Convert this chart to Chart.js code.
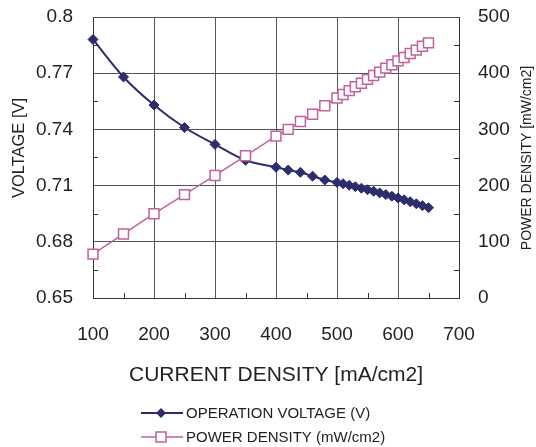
<!DOCTYPE html>
<html>
<head>
<meta charset="utf-8">
<script src="https://cdn.jsdelivr.net/npm/chart.js@4.4.1/dist/chart.umd.min.js"></script>
<style>
  html, body { margin: 0; padding: 0; background: #fff; }
  #wrap { width: 536px; height: 447px; position: relative; }
</style>
</head>
<body>
<div id="wrap"><canvas id="ivChart"></canvas></div>
<script>
// current density [mA/cm2]
const current = [100, 150, 200, 250, 300, 350, 400, 420, 440, 460, 480,
  500, 510, 520, 530, 540, 550, 560, 570, 580, 590, 600, 610, 620, 630, 640, 650];
// operation voltage [V]
const voltage = [0.788, 0.768, 0.753, 0.741, 0.732, 0.7235, 0.7198, 0.7183, 0.7171, 0.7150, 0.7130,
  0.7117, 0.7110, 0.7102, 0.7094, 0.7086, 0.7078, 0.7070, 0.7061, 0.7052, 0.7043, 0.7034,
  0.7024, 0.7014, 0.7003, 0.6993, 0.6982];
// power density [mW/cm2]
const power = [78, 114, 150, 184, 218, 253, 288, 300, 314, 327, 342,
  356, 362, 369, 376, 382, 389, 396, 402, 409, 415, 422, 428, 435, 441, 448, 454];

const voltTickLabels = ['0.65', '0.68', '0.71', '0.74', '0.77', '0.8'];
const powerTickLabels = ['0', '100', '200', '300', '400', '500'];
const xTickLabels = ['100', '200', '300', '400', '500', '600', '700'];

const NAVY = '#2d2c6c';
const PINK = '#c2619f';
const GRID = '#555555';
const TEXT = '#222222';
const FONT = "'Liberation Sans', Arial, sans-serif";
const NO_TICK = 'rgba(0,0,0,0)';

const toPoints = (ys) => current.map((x, i) => ({ x: x, y: ys[i] }));

// short inward ticks halfway between the major ones
const minorTicks = {
  id: 'minorTicks',
  afterDraw(chart) {
    const ctx = chart.ctx;
    const area = chart.chartArea;
    const len = 5;
    ctx.save();
    ctx.strokeStyle = '#333';
    ctx.lineWidth = 1;
    ctx.beginPath();
    const xs = chart.scales.x, yl = chart.scales.y, yr = chart.scales.y1;
    for (let i = 0; i < xs.ticks.length - 1; i++) {
      const px = Math.round(xs.getPixelForValue((xs.ticks[i].value + xs.ticks[i + 1].value) / 2)) + 0.5;
      ctx.moveTo(px, area.bottom);
      ctx.lineTo(px, area.bottom - len);
    }
    for (let i = 0; i < yl.ticks.length - 1; i++) {
      const py = Math.round(yl.getPixelForValue((yl.ticks[i].value + yl.ticks[i + 1].value) / 2)) + 0.5;
      ctx.moveTo(area.left, py);
      ctx.lineTo(area.left + len, py);
    }
    for (let i = 0; i < yr.ticks.length - 1; i++) {
      const py = Math.round(yr.getPixelForValue((yr.ticks[i].value + yr.ticks[i + 1].value) / 2)) + 0.5;
      ctx.moveTo(area.right, py);
      ctx.lineTo(area.right - len, py);
    }
    ctx.stroke();
    ctx.restore();
  }
};

// rotated axis titles and the stacked legend under the x axis
const sideTexts = {
  id: 'sideTexts',
  afterDraw(chart) {
    const ctx = chart.ctx;
    ctx.save();
    ctx.fillStyle = TEXT;
    ctx.textAlign = 'center';
    ctx.textBaseline = 'middle';

    ctx.save();
    ctx.translate(19, 148);
    ctx.rotate(-Math.PI / 2);
    ctx.font = '16.5px ' + FONT;
    ctx.fillText('VOLTAGE [V]', 0, 0);
    ctx.restore();

    ctx.save();
    ctx.translate(527, 158);
    ctx.rotate(-Math.PI / 2);
    ctx.font = '14px ' + FONT;
    ctx.fillText('POWER DENSITY [mW/cm2]', 0, 0);
    ctx.restore();

    const rows = [
      { y: 413, ds: chart.data.datasets[0] },
      { y: 437, ds: chart.data.datasets[1] }
    ];
    ctx.textAlign = 'left';
    ctx.font = '15px ' + FONT;
    rows.forEach((r) => {
      const ds = r.ds;
      ctx.strokeStyle = ds.borderColor;
      ctx.lineWidth = ds.borderWidth;
      ctx.beginPath();
      ctx.moveTo(141, r.y);
      ctx.lineTo(183, r.y);
      ctx.stroke();
      const cx = 161;
      ctx.beginPath();
      if (ds.pointStyle === 'rectRot') {
        ctx.moveTo(cx - 5, r.y);
        ctx.lineTo(cx, r.y - 5);
        ctx.lineTo(cx + 5, r.y);
        ctx.lineTo(cx, r.y + 5);
        ctx.closePath();
        ctx.fillStyle = ds.pointBackgroundColor;
        ctx.fill();
      } else {
        ctx.rect(cx - 5, r.y - 5, 10, 10);
        ctx.fillStyle = ds.pointBackgroundColor;
        ctx.fill();
        ctx.lineWidth = ds.pointBorderWidth;
        ctx.strokeStyle = ds.pointBorderColor;
        ctx.stroke();
      }
      ctx.fillStyle = TEXT;
      ctx.fillText(ds.label, 186, r.y + 1);
    });
    ctx.restore();
  }
};

new Chart(document.getElementById('ivChart').getContext('2d'), {
  type: 'line',
  data: {
    datasets: [{
      label: 'OPERATION VOLTAGE (V)',
      data: toPoints(voltage),
      yAxisID: 'y',
      borderColor: NAVY,
      borderWidth: 2,
      cubicInterpolationMode: 'monotone',
      pointStyle: 'rectRot',
      pointRadius: 5,
      pointBackgroundColor: NAVY,
      pointBorderColor: NAVY,
      pointBorderWidth: 1,
      clip: false,
      order: 2
    }, {
      label: 'POWER DENSITY (mW/cm2)',
      data: toPoints(power),
      yAxisID: 'y1',
      borderColor: PINK,
      borderWidth: 1.5,
      tension: 0,
      pointStyle: 'rect',
      pointRadius: 7,
      pointBackgroundColor: '#ffffff',
      pointBorderColor: PINK,
      pointBorderWidth: 1.5,
      clip: false,
      order: 1
    }]
  },
  options: {
    responsive: true,
    maintainAspectRatio: false,
    animation: false,
    layout: { padding: { left: 0, right: 0, top: 17, bottom: 59 } },
    plugins: {
      legend: { display: false },
      tooltip: { enabled: false }
    },
    scales: {
      x: {
        type: 'linear',
        min: 100,
        max: 700,
        afterFit: (s) => { s.height = 90; },
        grid: { color: GRID, lineWidth: 1, drawTicks: true, tickLength: 25, tickColor: NO_TICK },
        border: { color: '#333', width: 1 },
        ticks: {
          stepSize: 100,
          padding: 0,
          color: TEXT,
          font: { family: FONT, size: 19 },
          callback: (v, i) => xTickLabels[i]
        },
        title: {
          display: true,
          text: 'CURRENT DENSITY [mA/cm2]',
          color: TEXT,
          padding: 0,
          font: { family: FONT, size: 21 }
        }
      },
      y: {
        position: 'left',
        min: 0.65,
        max: 0.8,
        afterFit: (s) => { s.width = 93; },
        grid: { color: GRID, lineWidth: 1, drawTicks: true, tickLength: 20, tickColor: NO_TICK },
        border: { color: '#333', width: 1 },
        ticks: {
          stepSize: 0.03,
          padding: 0,
          color: TEXT,
          font: { family: FONT, size: 19 },
          callback: (v, i) => voltTickLabels[i]
        }
      },
      y1: {
        position: 'right',
        min: 0,
        max: 500,
        afterFit: (s) => { s.width = 77; },
        grid: { drawOnChartArea: false, drawTicks: true, tickLength: 19, tickColor: NO_TICK },
        border: { color: '#333', width: 1 },
        ticks: {
          stepSize: 100,
          padding: 0,
          color: TEXT,
          font: { family: FONT, size: 19 },
          callback: (v, i) => powerTickLabels[i]
        }
      }
    }
  },
  plugins: [minorTicks, sideTexts]
});
</script>
</body>
</html>
